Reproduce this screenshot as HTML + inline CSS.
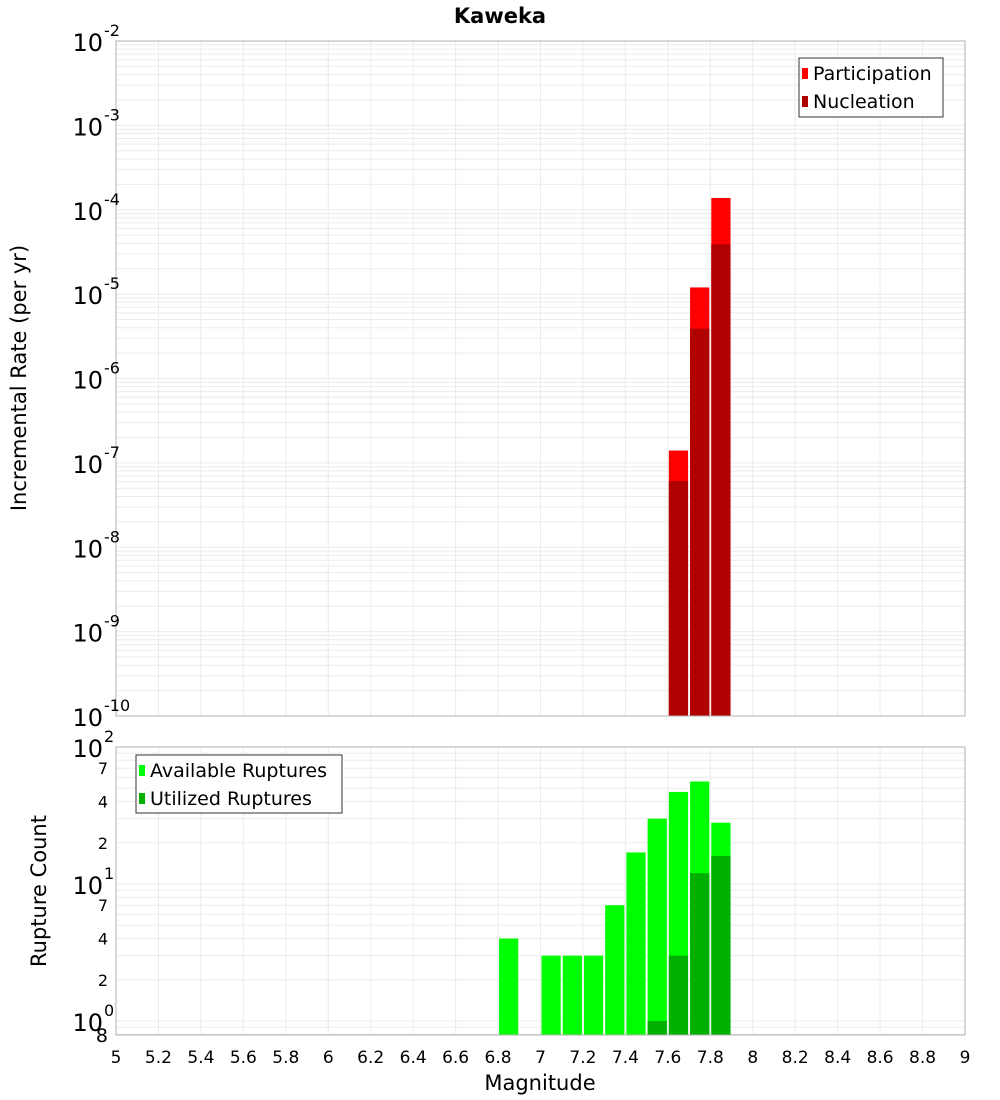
<!DOCTYPE html>
<html><head><meta charset="utf-8"><style>
body{margin:0;background:#fff;}
svg{display:block;font-family:"Liberation Sans","DejaVu Sans",sans-serif;}
</style></head><body>
<svg id="c" width="1000" height="1100" viewBox="0 0 1000 1100" xmlns="http://www.w3.org/2000/svg">
<text x="500" y="23" text-anchor="middle" font-size="21" font-weight="bold" font-family="DejaVu Sans, sans-serif">Kaweka</text>
<text x="540" y="1090" text-anchor="middle" font-size="21" font-family="DejaVu Sans, sans-serif">Magnitude</text>
<text transform="translate(26,378) rotate(-90)" text-anchor="middle" font-size="21" font-family="DejaVu Sans, sans-serif">Incremental Rate (per yr)</text>
<text transform="translate(46,891) rotate(-90)" text-anchor="middle" font-size="21" font-family="DejaVu Sans, sans-serif">Rupture Count</text>
<g id="topPlot"></g>
<g id="botPlot"></g>
<g id="xt"></g>
</svg>
<script>
const rateBins=[7.65,7.75,7.85];
const participation=[1.4e-7,1.2e-5,1.38e-4];
const nucleation=[6.1e-8,3.9e-6,3.9e-5];
const countBins=[6.85,7.05,7.15,7.25,7.35,7.45,7.55,7.65,7.75,7.85];
const available=[4,3,3,3,7,17,30,47,56,28];
const utilizedBins=[7.55,7.65,7.75,7.85];
const utilized=[1,3,12,16];
const xTicks=[5,5.2,5.4,5.6,5.8,6,6.2,6.4,6.6,6.8,7,7.2,7.4,7.6,7.8,8,8.2,8.4,8.6,8.8,9];
const topExps=[-2,-3,-4,-5,-6,-7,-8,-9,-10];
const botMinor=[2,4,7,20,40,70];

const NS="http://www.w3.org/2000/svg";
function mk(p,t,a){const e=document.createElementNS(NS,t);for(const k in a)e.setAttribute(k,a[k]);p.appendChild(e);return e;}
const X0=116,X1=965;
const xs=v=>X0+(v-5)/(9-5)*(X1-X0);
const T0=41,T1=716;
const yt=v=>T0+(-2-Math.log10(v))/8*(T1-T0);
const B0=747,B1=1035;
const yb=v=>1021-Math.log10(v)*137;

const topG=document.getElementById('topPlot'),botG=document.getElementById('botPlot'),xt=document.getElementById('xt');
mk(topG,'rect',{x:X0,y:T0,width:X1-X0,height:T1-T0,fill:'#fff'});
for(let e=-10;e<-2;e++)for(let k=1;k<10;k++){const y=yt(k*Math.pow(10,e));mk(topG,'line',{x1:X0,x2:X1,y1:y,y2:y,stroke:'#ebebeb','stroke-width':1});}
mk(botG,'rect',{x:X0,y:B0,width:X1-X0,height:B1-B0,fill:'#fff'});
[0.8,0.9,1,2,3,4,5,6,7,8,9,10,20,30,40,50,60,70,80,90,100].forEach(v=>{const y=yb(v);if(y>=B0&&y<=B1)mk(botG,'line',{x1:X0,x2:X1,y1:y,y2:y,stroke:'#ebebeb','stroke-width':1});});
xTicks.forEach(t=>{const x=xs(t);
 mk(topG,'line',{x1:x,x2:x,y1:T0,y2:T1,stroke:'#ebebeb'});
 mk(botG,'line',{x1:x,x2:x,y1:B0,y2:B1,stroke:'#ebebeb'});
 const tx=mk(xt,'text',{x:x,y:1063,'text-anchor':'middle','font-size':17,'font-family':'DejaVu Sans, sans-serif'});
 
 
 tx.textContent=String(t);});
const bw=xs(5.1)-xs(5)-2;
rateBins.forEach((b,i)=>{
 const x=xs(b-0.05)+1;
 const r=mk(topG,'rect',{x:x,y:yt(participation[i]),width:bw,height:T1-yt(participation[i]),fill:'#ff0000'});
 
 
 const n=mk(topG,'rect',{x:x,y:yt(nucleation[i]),width:bw,height:T1-yt(nucleation[i]),fill:'#b00000'});
 
 });
countBins.forEach((b,i)=>{
 const r=mk(botG,'rect',{x:xs(b-0.05)+1,y:yb(available[i]),width:bw,height:B1-yb(available[i]),fill:'#00ff00'});
 
 });
utilizedBins.forEach((b,i)=>{
 const r=mk(botG,'rect',{x:xs(b-0.05)+1,y:yb(utilized[i]),width:bw,height:B1-yb(utilized[i]),fill:'#00b000'});
 
 });
mk(topG,'rect',{x:X0,y:T0,width:X1-X0,height:T1-T0,fill:'none',stroke:'#b0b0b0'});
mk(botG,'rect',{x:X0,y:B0,width:X1-X0,height:B1-B0,fill:'none',stroke:'#b0b0b0'});
function pow(g,y,e,name){const t=mk(g,'text',{x:103,y:y+10,'text-anchor':'end','font-size':24,'font-family':'DejaVu Sans, sans-serif'});
 
 
 t.textContent='10';
 const s=mk(g,'text',{x:104,y:y-5,'font-size':16,'font-family':'DejaVu Sans, sans-serif'});s.textContent=String(e);}
topExps.forEach(e=>pow(topG,yt(Math.pow(10,e)),e,'top-y-tick-label'));
[0,1,2].forEach(e=>pow(botG,yb(Math.pow(10,e)),e,'bottom-y-tick-label'));
botMinor.forEach(v=>{const t=mk(botG,'text',{x:108,y:yb(v)+6,'text-anchor':'end','font-size':16,'font-family':'DejaVu Sans, sans-serif'});
 
 
 t.textContent=String(v).charAt(0);});
const e8=mk(botG,'text',{x:108,y:1042,'text-anchor':'end','font-size':19,'font-family':'DejaVu Sans, sans-serif'});e8.textContent='8';
function legend(g,x,y,w,h,items,name){const lg=mk(g,'g',{});
 
 
 mk(lg,'rect',{x:x,y:y,width:w,height:h,fill:'#fff',stroke:'#333'});
 items.forEach((it,i)=>{const cy=y+15+i*28;
  mk(lg,'rect',{x:x+3,y:cy-5,width:6,height:11,fill:it[1]});
  const t=mk(lg,'text',{x:x+14,y:cy+7,'font-size':19,'font-family':'DejaVu Sans, sans-serif'});t.textContent=it[0];});}
legend(topG,799,58,144,59,[['Participation','#ff0000'],['Nucleation','#b00000']],'rate-legend');
legend(botG,136,755,206,58,[['Available Ruptures','#00ff00'],['Utilized Ruptures','#00b000']],'rupture-legend');
</script>
</body></html>
